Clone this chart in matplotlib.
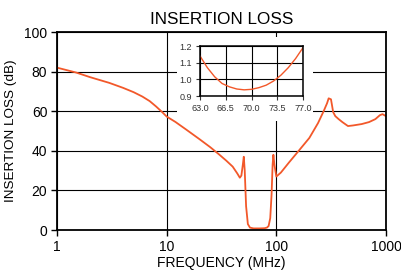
import matplotlib
matplotlib.use("Agg")
import matplotlib.pyplot as plt
from matplotlib.patches import Rectangle

plt.rcParams['font.family'] = ['Liberation Sans', 'DejaVu Sans']

# main curve: insertion loss vs frequency
freq_mhz = [1, 1.5, 2, 3, 4, 5, 6, 7, 8, 9, 10, 12, 15, 20, 25, 30, 35, 40, 44, 46.5,
            48, 49.5, 50.5, 51.5, 53, 55, 57.5, 62, 70, 78, 82, 85, 88, 90.5, 92.5,
            94, 96, 100, 110, 130, 160, 200, 240, 270, 290, 300, 315, 330, 345,
            370, 400, 450, 500, 600, 700, 800, 880, 930, 1000]
loss_db = [82, 79.5, 77.2, 74.3, 71.8, 69.6, 67.4, 65.1, 62.4, 59.8, 57.3, 54.6, 50.8, 45.8,
           41.8, 38.2, 35, 32, 28.6, 26.4, 27.5, 33, 37, 30, 12, 3, 1.2, 0.8, 0.8, 0.9,
           1.2, 2, 6, 18, 33, 38, 33, 27, 29, 34, 40, 46.5, 54, 60, 64, 66.5, 66, 59.5,
           57.5, 56, 54.5, 52.5, 52.8, 53.5, 54.5, 56, 58, 58.5, 57.5]

# inset: zoom into the passband
inset_freq = [63, 64, 65, 66, 67, 68, 69, 70, 71, 72, 73, 74, 75, 76, 77]
inset_loss = [1.14, 1.07, 1.015, 0.975, 0.955, 0.942, 0.937, 0.94, 0.95, 0.965, 0.99,
              1.025, 1.07, 1.125, 1.19]

line_color = '#f2582a'

fig = plt.figure(figsize=(4.01, 2.73), dpi=100)
W, H = 401, 273
ax = fig.add_axes([57 / W, 1 - 230 / H, (386 - 57) / W, (230 - 32) / H])

ax.plot(freq_mhz, loss_db, color=line_color, lw=1.3, zorder=2)
ax.set_xscale('log')
ax.set_xlim(1, 1000)
ax.set_ylim(0, 100)
ax.set_xticks([1, 10, 100, 1000])
ax.set_xticklabels(['1', '10', '100', '1000'])
ax.set_yticks([0, 20, 40, 60, 80, 100])
ax.minorticks_off()
ax.grid(True, color='black', lw=0.8)
ax.tick_params(direction='out', length=4, width=1, labelsize=10, pad=3)
for s in ax.spines.values():
    s.set_linewidth(1.3)

ax.set_title('INSERTION LOSS', fontsize=12.3, pad=6)
ax.set_xlabel('FREQUENCY (MHz)', fontsize=10, labelpad=2)
ax.set_ylabel('INSERTION LOSS (dB)', fontsize=9.7, labelpad=5)

# white area behind the inset hides the main grid
ax.add_patch(Rectangle(((177 - 57) / 329, (230 - 121) / 198), (313 - 177) / 329,
                       (121 - 37) / 198, transform=ax.transAxes,
                       facecolor='white', edgecolor='none', zorder=1.8))

ins = fig.add_axes([200 / W, 1 - 96 / H, (303 - 200) / W, (96 - 46) / H])
ins.plot(inset_freq, inset_loss, color=line_color, lw=1.0)
ins.set_xlim(63, 77)
ins.set_ylim(0.9, 1.2)
ins.set_xticks([63.0, 66.5, 70.0, 73.5, 77.0])
ins.set_xticklabels(['63.0', '66.5', '70.0', '73.5', '77.0'])
ins.set_yticks([0.9, 1.0, 1.1, 1.2])
ins.set_yticklabels(['0.9', '1.0', '1.1', '1.2'])
ins.grid(True, color='black', lw=0.8)
ins.tick_params(direction='out', length=3, width=0.8, labelsize=6.5, pad=3, colors='#333333')
for s in ins.spines.values():
    s.set_linewidth(1.1)

fig.savefig('out.png', dpi=100)
